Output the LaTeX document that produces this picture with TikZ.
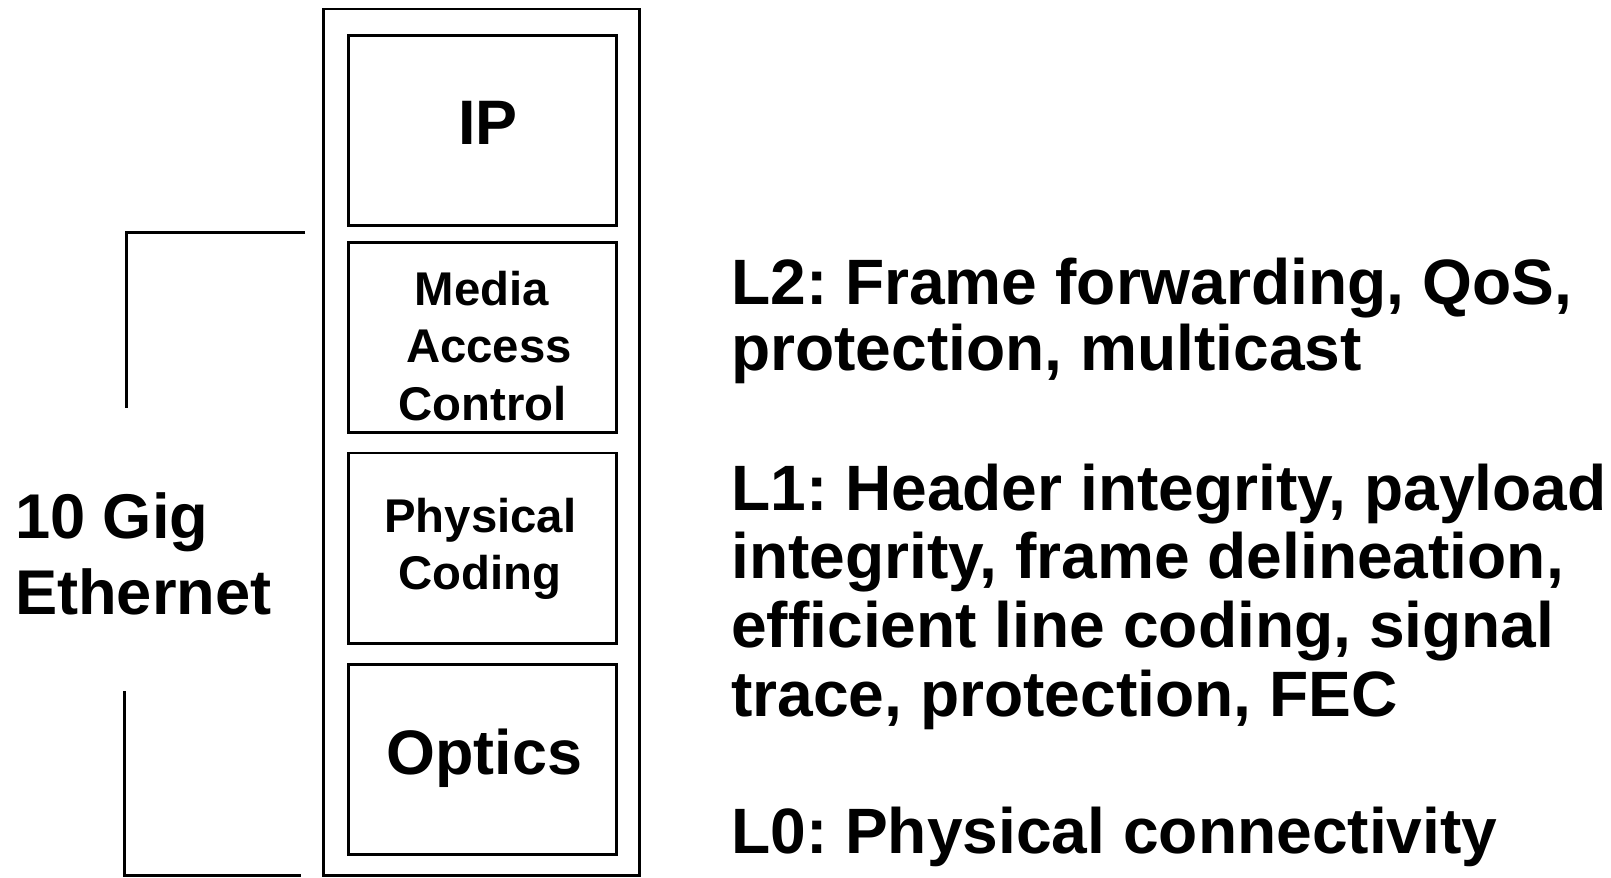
\documentclass[tikz,border=0pt]{standalone}
\usepackage{fontspec}
\setmainfont{Liberation Sans}
\frenchspacing
\begin{document}
\begin{tikzpicture}[x=0.01cm,y=-0.01cm,
  box/.style={draw,line width=0.8pt,inner sep=0pt},
  big/.style={font=\fontsize{17.4}{20}\selectfont\bfseries,inner sep=0pt,anchor=base},
  mid/.style={font=\fontsize{13.1}{15}\selectfont\bfseries,inner sep=0pt,anchor=base},
  lefttxt/.style={font=\fontsize{17.5}{20}\selectfont\bfseries,inner sep=0pt,anchor=base west},
  desc/.style={font=\fontsize{17.75}{20}\selectfont\bfseries,inner sep=0pt,anchor=base west},
  brk/.style={line width=0.8pt}]
\useasboundingbox (0,0) rectangle (1568,854);
% stack
\node[box,minimum width=3.07cm,minimum height=8.43cm] (outer) at (468.5,430.5) {};
\node[box,minimum width=2.61cm,minimum height=1.84cm] (ipbox) at (469.5,127) {};
\node[box,minimum width=2.61cm,minimum height=1.85cm] (macbox) at (469.5,328.5) {};
\node[box,minimum width=2.61cm,minimum height=1.85cm] (pcbox) at (469.5,533.5) {};
\node[box,minimum width=2.61cm,minimum height=1.85cm] (optbox) at (469.5,739.5) {};
% box texts
\node[big] (iptxt) at (475,141) {IP};
\node[mid] (mac1) at (469,297) {Media};
\node[mid] (mac2) at (476,353) {Access};
\node[mid] (mac3) at (470,409) {Control};
\node[mid] (pc1) at (467.5,518) {Physical};
\node[mid] (pc2) at (467,574) {Coding};
\node[big] (opttxt) at (471.5,754) {Optics};
% left label
\node[lefttxt] (gig1) at (14,524) {10 Gig};
\node[lefttxt] (gig2) at (14,598) {Ethernet};
% bracket
\coordinate (bta) at (297,226);
\coordinate (btb) at (123,397);
\draw[brk] (bta) -| (btb);
\coordinate (bba) at (121,673);
\coordinate (bbb) at (293,852);
\draw[brk] (bba) |- (bbb);
% descriptions
\node[desc] (l2a) at (711,296) {L2: Frame forwarding, QoS,};
\node[desc] (l2b) at (711,361) {protection, multicast};
\node[desc] (l1a) at (711,497) {L1: Header integrity, payload};
\node[desc] (l1b) at (711,563) {integrity, frame delineation,};
\node[desc] (l1c) at (711,630) {efficient line coding, signal};
\node[desc] (l1d) at (711,697) {trace, protection, FEC};
\node[desc] (l0a) at (711,831) {L0: Physical connectivity};
\end{tikzpicture}
\end{document}
